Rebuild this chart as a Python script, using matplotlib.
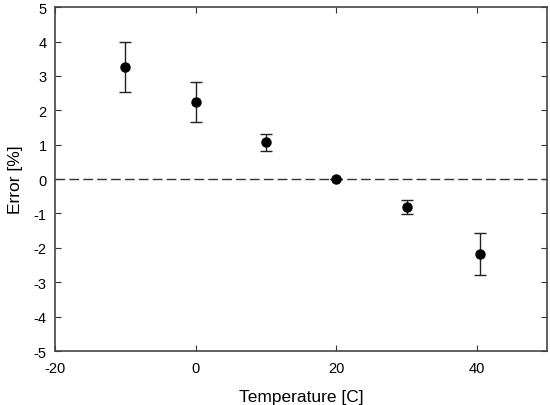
import matplotlib.pyplot as plt

plt.rcParams['font.family'] = ['Liberation Sans', 'DejaVu Sans']
plt.rcParams['axes.unicode_minus'] = False

# data
temperature = [-10, 0, 10, 20, 30, 40.4]
error = [3.27, 2.24, 1.07, 0.0, -0.82, -2.18]
err_upper = [0.72, 0.57, 0.24, 0.0, 0.21, 0.62]
err_lower = [0.74, 0.57, 0.25, 0.0, 0.21, 0.62]

x_ticks = [-20, 0, 20, 40]
y_ticks = [-5, -4, -3, -2, -1, 0, 1, 2, 3, 4, 5]

fig = plt.figure(figsize=(5.5, 4.06), dpi=100)
ax = fig.add_axes([0.1, 0.133, 0.895, 0.847])

# zero reference line
ax.axhline(0, color='#333333', linestyle=(0, (7, 3)), linewidth=1.0, zorder=1)

ax.errorbar(temperature, error, yerr=[err_lower, err_upper], fmt='o',
            color='black', markersize=6.5, ecolor='#222222', elinewidth=1.0,
            capsize=4, capthick=1.0, zorder=3)

ax.set_xlim(-20, 50)
ax.set_ylim(-5, 5)
ax.set_xticks(x_ticks)
ax.set_yticks(y_ticks)
ax.tick_params(direction='in', top=True, right=True, length=4, width=0.8,
               labelsize=10.5, color='#333333')
ax.tick_params(axis='x', pad=7)
ax.tick_params(axis='y', pad=6)

for s in ax.spines.values():
    s.set_color('#444444')
    s.set_linewidth(1.2)

ax.set_xlabel('Temperature [C]', fontsize=12.5, labelpad=10)
ax.set_ylabel('Error [%]', fontsize=12.5, labelpad=8)

fig.savefig('out.png', dpi=100)
